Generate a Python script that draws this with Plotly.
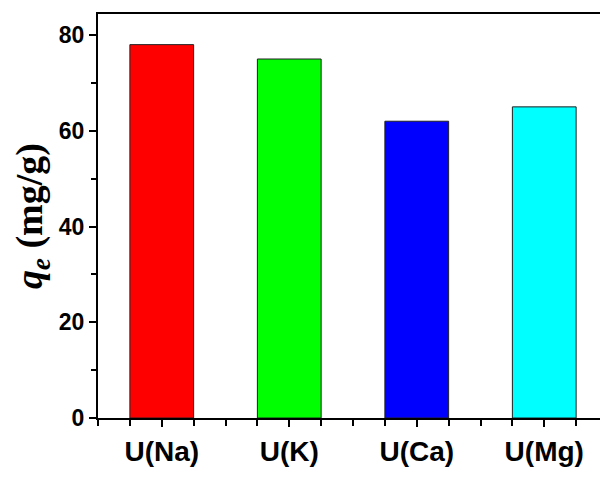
import plotly.graph_objects as go

categories = ["U(Na)", "U(K)", "U(Ca)", "U(Mg)"]
positions = [1, 2, 3, 4]
qe_values = [78, 75, 62, 65]
bar_colors = ["#FF0000", "#00FF00", "#0000FF", "#00FFFF"]
y_ticks = [0, 20, 40, 60, 80]

fig = go.Figure()
fig.add_trace(go.Bar(
    x=positions, y=qe_values, width=0.5,
    marker=dict(color=bar_colors, line=dict(color="#202020", width=1)),
))

# page body has an 8px default margin, so the figure is 8px smaller each way
fig.update_layout(
    width=600, height=471,
    margin=dict(l=90, r=0, t=6, b=61, autoexpand=False),
    plot_bgcolor="white", paper_bgcolor="white",
    showlegend=False,
    font=dict(family="Liberation Sans, Arial", color="black"),
)
fig.update_xaxes(
    range=[0.5, 4.5], tickvals=positions, ticktext=categories,
    tickfont=dict(family="Liberation Sans, Arial", size=28, weight="bold"),
    ticks="outside", ticklen=7, tickwidth=2, tickcolor="black",
    minor=dict(dtick=0.25, tick0=0.5, ticks="outside", ticklen=6, tickwidth=2, tickcolor="black"),
    showline=True, linewidth=2, linecolor="black", mirror=True,
    showgrid=False, zeroline=False, automargin=False,
)
fig.update_yaxes(
    range=[0, 84.4], tickvals=y_ticks,
    tickfont=dict(family="Liberation Sans, Arial", size=23, weight="bold"),
    ticks="outside", ticklen=7, tickwidth=2, tickcolor="black",
    minor=dict(dtick=10, tick0=0, ticks="outside", ticklen=5, tickwidth=2, tickcolor="black"),
    showline=True, linewidth=2, linecolor="black", mirror=True,
    showgrid=False, zeroline=False, automargin=False,
    title=dict(text="<b><i>q<sub>e</sub></i> (mg/g)</b>",
               font=dict(family="Liberation Serif, Times New Roman", size=38),
               standoff=6),
)

fig.write_html("out.html")
